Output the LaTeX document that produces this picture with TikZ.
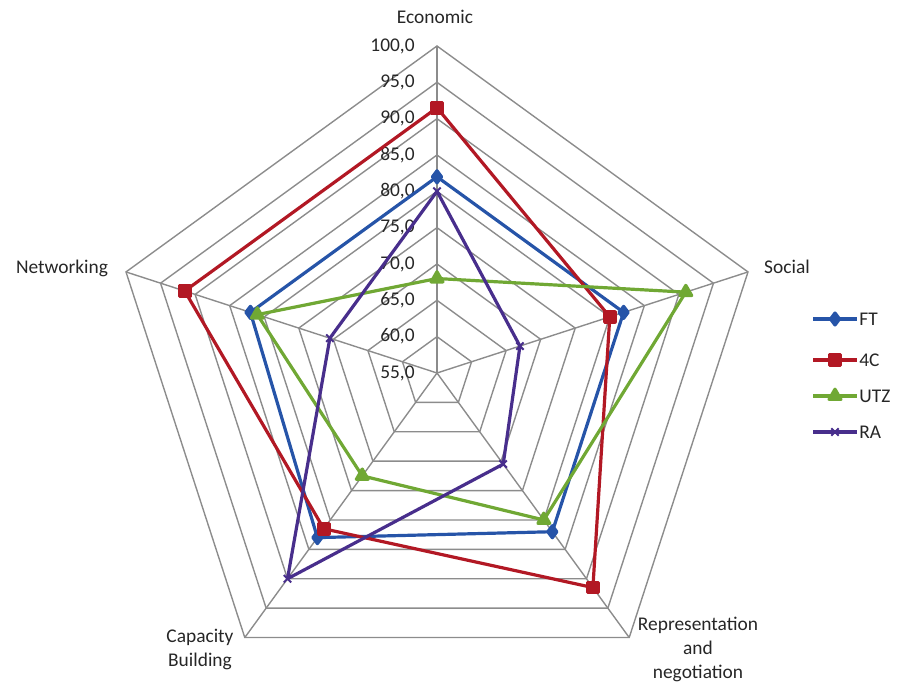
\documentclass[tikz,border=0pt]{standalone}
\usepackage{fontspec}
\setmainfont{Carlito}
\usetikzlibrary{plotmarks}
\def\rad#1{(#1-55)*327/45}

\definecolor{ftblue}{RGB}{38,84,168}
\definecolor{fcred}{RGB}{178,24,36}
\definecolor{utzgreen}{RGB}{112,168,52}
\definecolor{rapurple}{RGB}{72,46,140}
\definecolor{gridgray}{RGB}{140,140,140}

\tikzset{
	grid line/.style={draw=gridgray, line width=0.7pt},
	series/.style={line width=1.6pt, line join=round},
	ftline/.style={series, draw=ftblue, mark=diamond*, mark size=3pt, mark options={solid, fill=ftblue, draw=ftblue}},
	fcline/.style={series, draw=fcred, mark=square*, mark size=2.6pt, mark options={solid, fill=fcred, draw=fcred}},
	utzline/.style={series, draw=utzgreen, mark=triangle*, mark size=3.4pt, mark options={solid, fill=utzgreen, draw=utzgreen}},
	raline/.style={series, draw=rapurple, mark=x, mark size=2.6pt, mark options={solid, draw=rapurple, line width=1pt}},
	tick label/.style={anchor=east, inner sep=0pt, text=black!85},
	cat label/.style={align=center, inner sep=0pt, text=black!85},
	leg label/.style={anchor=west, inner sep=0pt, text=black!85}
}

\begin{document}
\begin{tikzpicture}[x=0.5pt, y=0.5pt, font=\fontsize{9.7}{12}\selectfont]
			%%%%% START %%%%%
			\useasboundingbox (0,0) rectangle (899,685);
			
			\begin{scope}[shift={(437,312)}]
				% rings and axes
				\foreach \v in {60,65,...,100}
					\draw[grid line] (90:{\rad{\v}}) -- (18:{\rad{\v}}) -- (-54:{\rad{\v}}) -- (-126:{\rad{\v}}) -- (162:{\rad{\v}}) -- cycle;
				\foreach \a in {90,18,-54,-126,162}
					\draw[grid line] (0,0) -- (\a:327);
				
				\foreach \v in {55,60,...,100}
					\node[tick label] (tick\v) at (-22, {\rad{\v}}) {\v,0};
				
				% series
				\draw[ftline] plot coordinates {(90:{\rad{82}}) (18:{\rad{82}}) (-54:{\rad{82}}) (-126:{\rad{83}}) (162:{\rad{82}})} -- cycle;
				\draw[fcline] plot coordinates {(90:{\rad{91.5}}) (18:{\rad{80}}) (-54:{\rad{91.5}}) (-126:{\rad{81.5}}) (162:{\rad{91.5}})} -- cycle;
				\draw[utzline] plot coordinates {(90:{\rad{68}}) (18:{\rad{91}}) (-54:{\rad{80}}) (-126:{\rad{72.5}}) (162:{\rad{81}})} -- cycle;
				\draw[raline] plot coordinates {(90:{\rad{80}}) (18:{\rad{67}}) (-54:{\rad{70.5}}) (-126:{\rad{90}}) (162:{\rad{70.5}})} -- cycle;
			\end{scope}
			
			% category labels
			\node[cat label] (econ) at (435, 668) {Economic};
			\node[cat label] (social) at (787, 418) {Social};
			\node[cat label] (netw) at (62, 417) {Networking};
			\node[cat label] (capb) at (200, 36) {Capacity\\Building};
			\node[cat label] (repr) at (698, 36) {Representation\\and\\negotiation};
			
			% legend
			\node[leg label] (legFT) at (859, 366) {FT};
			\node[leg label] (leg4C) at (859, 325) {4C};
			\node[leg label] (legUTZ) at (859, 289) {UTZ};
			\node[leg label] (legRA) at (859, 253) {RA};
			\draw[ftline, mark=none] (813, 366) -- (857, 366);
			\draw[ftline] plot coordinates {(835, 366)};
			\draw[fcline, mark=none] (813, 325) -- (857, 325);
			\draw[fcline] plot coordinates {(835, 325)};
			\draw[utzline, mark=none] (813, 289) -- (857, 289);
			\draw[utzline] plot coordinates {(835, 289)};
			\draw[raline, mark=none] (813, 253) -- (857, 253);
			\draw[raline] plot coordinates {(835, 253)};
			%%%%% END %%%%%
		\end{tikzpicture}
\end{document}
